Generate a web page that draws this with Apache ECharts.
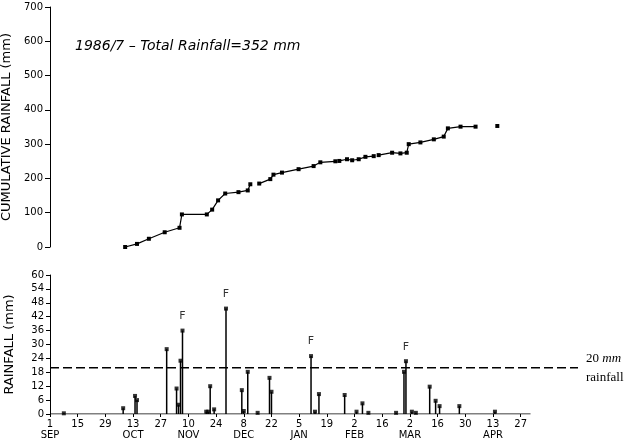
<!DOCTYPE html>
<html>
<head>
<meta charset="utf-8">
<script src="https://cdn.jsdelivr.net/npm/echarts@6/dist/echarts.min.js"></script>
<style>html,body{margin:0;padding:0;background:#fff}#c{width:631px;height:442px}</style>
</head>
<body>
<div id="c"></div>
<script>
// Days counted from 1 September 1986
var tickDays = [0,14,28,42,56,70,84,98,112,126,140,154,168,182,196,210,224,238];
var tickLabels = ['1\nSEP','15','29','13\nOCT','27','10\nNOV','24','8\nDEC','22','5\nJAN','19','2\nFEB','16','2\nMAR','16','30','13\nAPR','27'];

var dailyDays = [7,37,43,44,59,64,65,66,67,79,80,81,83,89,97,98,100,105,111,112,132,134,136,149,155,158,161,175,179,180,183,185,192,195,197,207,225];
var dailyRain = [0.3,2.5,7.8,6,28,11,4,23,36,1,1,12,2,45.5,10.3,1.3,18.2,0.5,15.6,9.6,25,1,8.6,8.2,1,4.6,0.5,0.5,18.2,22.8,1,0.5,11.8,5.7,3.4,3.4,1];
var fDays = [67,89,132,180];

var cumDays = [38,44,50,58,65.5,66.7,79.3,82,85,88.6,95.3,100,101.3,103,105.8,111.4,113,117.3,125.7,133.3,136.7,144.3,145.3,146.3,150.2,152.8,156.1,159.5,163.7,165,166.2,173,177.2,180.4,181.4,187.3,194.1,199.1,201.2,207.6,215.2,220,226.2];
var cumRain = [0,9,24,43,56,95,95,109,136,156,160,165,183,null,185,198,211,217,227,236,247,250,null,251,256,253,256,263,265,null,268,275,273,275,300,305,314,322,346,351,351,null,353];

var axisEndDay = 243;
var thresholdValue = 20;
var thresholdEndDay = 267;
var titleText = '1986/7 \u2013 Total Rainfall=352 mm';

var stemData = dailyDays.map(function(d,i){ return [d, dailyRain[i]]; });
var tipData = dailyDays.map(function(d,i){
  return {value:[d, dailyRain[i]], label:{show: fDays.indexOf(d) >= 0}};
});
var cumData = cumDays.map(function(d,i){ return cumRain[i] === null ? [d,'-'] : [d, cumRain[i]]; });

var font = 'DejaVu Sans';
var chart = echarts.init(document.getElementById('c'));
chart.setOption({
  animation: false,
  backgroundColor: '#fff',
  title: {
    text: titleText, left: 70, top: 34,
    textStyle: {fontFamily: 'DejaVu Sans', fontStyle: 'italic', fontWeight: 'normal', fontSize: 14, color: '#000'}
  },
  grid: [
    {left: 50, right: 53, top: 7, height: 240, containLabel: false, outerBoundsMode: 'none'},
    {left: 50, right: 53, top: 275, height: 139, containLabel: false, outerBoundsMode: 'none'}
  ],
  xAxis: [
    {gridIndex: 0, type: 'value', min: 0, max: thresholdEndDay, show: false},
    {gridIndex: 1, type: 'value', min: 0, max: thresholdEndDay, interval: 14,
     axisLine: {show: false},
     axisTick: {show: true, length: 3, customValues: tickDays, lineStyle: {color: '#000'}},
     splitLine: {show: false},
     axisLabel: {color: '#000', fontFamily: font, fontSize: 10, lineHeight: 11, margin: 5,
       customValues: tickDays,
       formatter: function(v){ var i = tickDays.indexOf(v); return i >= 0 ? tickLabels[i] : ''; }}
    }
  ],
  yAxis: [
    {gridIndex: 0, type: 'value', min: 0, max: 700, interval: 100,
     name: 'CUMULATIVE RAINFALL (mm)', nameLocation: 'middle', nameGap: 35,
     nameTextStyle: {fontFamily: font, fontSize: 13, color: '#000'},
     axisLine: {show: true, lineStyle: {color: '#000'}},
     axisTick: {show: true, length: 5, lineStyle: {color: '#000'}},
     splitLine: {show: false},
     axisLabel: {color: '#000', fontFamily: font, fontSize: 10, margin: 7}
    },
    {gridIndex: 1, type: 'value', min: 0, max: 60, interval: 6,
     name: 'RAINFALL (mm)', nameLocation: 'middle', nameGap: 34,
     nameTextStyle: {fontFamily: font, fontSize: 13, color: '#000'},
     axisLine: {show: true, lineStyle: {color: '#000'}},
     axisTick: {show: true, length: 4, lineStyle: {color: '#000'}},
     splitLine: {show: false},
     axisLabel: {color: '#000', fontFamily: font, fontSize: 10, margin: 6}
    }
  ],
  series: [
    {type: 'line', xAxisIndex: 0, yAxisIndex: 0, data: cumData,
     symbol: 'rect', symbolSize: 4, showSymbol: true, showAllSymbol: true,
     lineStyle: {color: '#000', width: 1.2}, itemStyle: {color: '#000'}, connectNulls: false},
    {type: 'line', xAxisIndex: 1, yAxisIndex: 1, data: [[0,0],[axisEndDay,0]],
     symbol: 'none', lineStyle: {color: '#000', width: 1}, z: 1},
    {type: 'bar', xAxisIndex: 1, yAxisIndex: 1, data: stemData, barWidth: 1.5,
     itemStyle: {color: '#000'}},
    {type: 'scatter', xAxisIndex: 1, yAxisIndex: 1, data: tipData,
     symbol: 'rect', symbolSize: [4,4], itemStyle: {color: '#000'},
     label: {position: 'top', distance: 7, formatter: 'F', fontFamily: font, fontSize: 11, color: '#000'}},
    {type: 'line', xAxisIndex: 1, yAxisIndex: 1,
     data: [[0, thresholdValue], [thresholdEndDay, thresholdValue]],
     symbol: 'none', lineStyle: {color: '#000', width: 1.5, type: [9,4]},
     endLabel: {show: true, distance: 8, formatter: '{a|20 }{b|mm}\n{c|rainfall}',
       rich: {
         a: {fontFamily: 'Liberation Serif', fontSize: 13, color: '#000', lineHeight: 19},
         b: {fontFamily: 'Liberation Serif', fontStyle: 'italic', fontSize: 13, color: '#000', lineHeight: 19},
         c: {fontFamily: 'Liberation Serif', fontSize: 13, color: '#000', lineHeight: 19}
       }}
    }
  ]
});
</script>
</body>
</html>
